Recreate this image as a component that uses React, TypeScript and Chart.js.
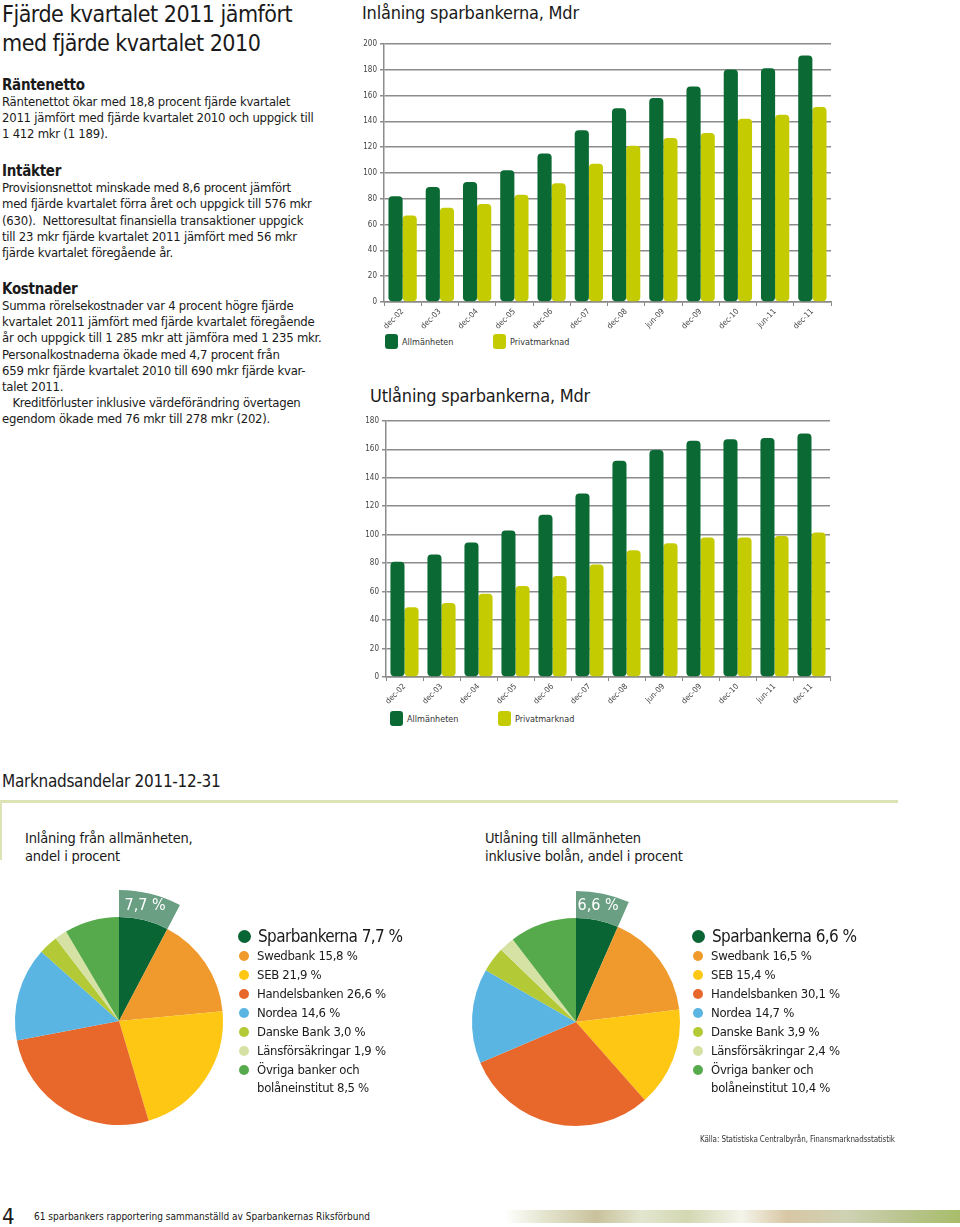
import React, { useEffect, useRef } from "react";
import { Chart, registerables } from "chart.js";

Chart.register(...registerables);

const FONT = '"Liberation Sans Narrow", "DejaVu Sans Condensed", Lato, sans-serif';

// ---- Bar chart data ----
const periods = ["dec-02", "dec-03", "dec-04", "dec-05", "dec-06", "dec-07", "dec-08", "jun-09", "dec-09", "dec-10", "jun-11", "dec-11"];
const seriesNames = ["Allmänheten", "Privatmarknad"];
const inlaningAllmanheten = [82, 89, 93, 102, 115, 133, 150, 158, 167, 180, 181, 191];
const inlaningPrivat = [67, 73, 76, 83, 92, 107, 121, 127, 131, 142, 145, 151];
const utlaningAllmanheten = [81, 86, 94.5, 103, 114, 129, 152, 159.5, 166, 167, 168, 171];
const utlaningPrivat = [49, 52, 58.5, 64, 71, 79, 89, 94, 98, 98, 99, 101.5];
const inlaningMax = 200;
const utlaningMax = 180;
const yStep = 20;

// ---- Pie data ----
const bankNames = ["Sparbankerna", "Swedbank", "SEB", "Handelsbanken", "Nordea", "Danske Bank", "Länsförsäkringar", "Övriga banker och\nbolåneinstitut"];
const inlaningShares = [7.7, 15.8, 21.9, 26.6, 14.6, 3.0, 1.9, 8.5];
const utlaningShares = [6.6, 16.5, 15.4, 30.1, 14.7, 3.9, 2.4, 10.4];

// ---- Styles ----
const DARK_GREEN = "#0b6a34";
const LIME = "#c4cb00";
const bankColors = ["#0a6534", "#f0992c", "#fdc713", "#e8672a", "#5ab5e2", "#b3c935", "#d5e2a4", "#57aa4b"];
const BAND = "#6a9f84";

const fmt = (v: number) => v.toFixed(1).replace(".", ",") + " %";

function BarChart({ a, b, max, left, top, width, height }: any) {
  const ref = useRef<HTMLCanvasElement>(null);
  useEffect(() => {
    const tickFont = { family: FONT, size: 8 };
    const chart = new Chart(ref.current!, {
      type: "bar",
      data: {
        labels: periods,
        datasets: [
          { label: seriesNames[0], data: a, backgroundColor: DARK_GREEN, borderRadius: 4, borderSkipped: false, categoryPercentage: 0.76, barPercentage: 1 },
          { label: seriesNames[1], data: b, backgroundColor: LIME, borderRadius: 4, borderSkipped: false, categoryPercentage: 0.76, barPercentage: 1 },
        ],
      },
      options: {
        responsive: false,
        animation: false,
        events: [],
        layout: { padding: { top: 6, right: 5, left: 0, bottom: 0 } },
        plugins: { legend: { display: false }, tooltip: { enabled: false } },
        scales: {
          x: {
            grid: { display: true, drawOnChartArea: false, tickLength: 4, color: "#888", lineWidth: 1 },
            border: { color: "#888", width: 1.5 },
            ticks: { minRotation: 45, maxRotation: 45, font: tickFont, color: "#444", padding: 1, autoSkip: false },
            afterFit: (s: any) => { s.height = 28; },
          },
          y: {
            min: 0,
            max,
            ticks: { stepSize: yStep, font: tickFont, color: "#444", padding: 3 },
            grid: { color: "#8c8c8c", lineWidth: 1.5, tickLength: 4 },
            border: { color: "#8c8c8c", width: 1.5 },
            afterFit: (s: any) => { s.width = 28; },
          },
        },
      },
    } as any);
    return () => chart.destroy();
  }, []);
  return (
    <canvas ref={ref} width={width} height={height}
      style={{ position: "absolute", left, top, width, height }} />
  );
}

const bandLabelPlugin = {
  id: "bandLabel",
  afterDatasetsDraw(chart: any, _args: any, opts: any) {
    const arc = chart.getDatasetMeta(0).data[0];
    if (!arc) return;
    const p = arc.tooltipPosition(false);
    const ctx = chart.ctx;
    ctx.save();
    ctx.fillStyle = "#ffffff";
    ctx.font = `16px ${FONT}`;
    ctx.textAlign = "center";
    ctx.textBaseline = "middle";
    ctx.fillText(opts.text, p.x - 2, p.y - 1);
    ctx.restore();
  },
};

function PieChart({ values, left, top, size }: any) {
  const ref = useRef<HTMLCanvasElement>(null);
  useEffect(() => {
    const chart = new Chart(ref.current!, {
      type: "doughnut",
      data: {
        labels: bankNames,
        datasets: [
          { data: values, backgroundColor: values.map((_: number, i: number) => (i === 0 ? BAND : "rgba(0,0,0,0)")), borderWidth: 0, weight: 27 },
          { data: values, backgroundColor: bankColors, borderWidth: 0, weight: 104 },
        ],
      },
      options: {
        responsive: false,
        animation: false,
        events: [],
        cutout: 0,
        layout: { padding: 4 },
        plugins: { legend: { display: false }, tooltip: { enabled: false }, bandLabel: { text: fmt(values[0]) } },
      },
      plugins: [bandLabelPlugin],
    } as any);
    return () => chart.destroy();
  }, []);
  return (
    <canvas ref={ref} width={size} height={size}
      style={{ position: "absolute", left, top, width: size, height: size }} />
  );
}

function PieLegend({ values, left, top }: any) {
  return (
    <div style={{ position: "absolute", left, top }}>
      {bankNames.map((name, i) => {
        const big = i === 0;
        const y = big ? 0 : 23 + (i - 1) * 19;
        return (
          <div key={name} style={{ position: "absolute", left: 0, top: y, whiteSpace: "pre", display: "flex", alignItems: "flex-start" }}>
            <div style={{
              width: big ? 13 : 10, height: big ? 13 : 10, borderRadius: "50%", background: bankColors[i],
              marginTop: big ? 6 : 4, marginLeft: big ? 0 : 1, marginRight: big ? 7 : 8,
            }} />
            <div style={{ fontSize: big ? 17 : 13, letterSpacing: big ? "-0.6px" : "-0.3px", lineHeight: big ? "24px" : "18px", color: "#1a1a1a" }}>
              {name + " " + fmt(values[i])}
            </div>
          </div>
        );
      })}
    </div>
  );
}

function BarLegend({ left, top, gap }: any) {
  const item = (color: string, label: string, x: number) => (
    <div style={{ position: "absolute", left: x, top: 0, display: "flex", alignItems: "center" }}>
      <div style={{ width: 13, height: 15, borderRadius: 3, background: color, marginRight: 4 }} />
      <div style={{ fontSize: 9, color: "#333" }}>{label}</div>
    </div>
  );
  return (
    <div style={{ position: "absolute", left, top }}>
      {item(DARK_GREEN, seriesNames[0], 0)}
      {item(LIME, seriesNames[1], gap)}
    </div>
  );
}

const abs = (left: number, top: number, extra: any = {}) => ({ position: "absolute" as const, left, top, ...extra });

export default function App() {
  const body = { fontSize: 13, letterSpacing: "-0.25px", whiteSpace: "pre" };
  const head = { fontWeight: "bold", fontSize: 15, letterSpacing: "-0.3px" };
  return (
    <div style={{ position: "absolute", left: 0, top: 0, width: 960, height: 1227, background: "#fff", overflow: "hidden", fontFamily: FONT, color: "#1a1a1a" }}>
      {/* Left text column */}
      <div style={abs(2, 0, { fontSize: 23, letterSpacing: "-0.5px", lineHeight: "29px", whiteSpace: "pre" })}>
        {"Fjärde kvartalet 2011 jämfört\nmed fjärde kvartalet 2010"}
      </div>
      <div style={abs(2, 77, { ...body, lineHeight: "16px" })}>
        <div style={{ ...head, lineHeight: "17px" }}>Räntenetto</div>
        {"Räntenettot ökar med 18,8 procent fjärde kvartalet\n2011 jämfört med fjärde kvartalet 2010 och uppgick till\n1 412 mkr (1 189)."}
      </div>
      <div style={abs(2, 162, { ...body, lineHeight: "16.3px" })}>
        <div style={{ ...head, lineHeight: "18px" }}>Intäkter</div>
        {"Provisionsnettot minskade med 8,6 procent jämfört\nmed fjärde kvartalet förra året och uppgick till 576 mkr\n(630).  Nettoresultat finansiella transaktioner uppgick\ntill 23 mkr fjärde kvartalet 2011 jämfört med 56 mkr\nfjärde kvartalet föregående år."}
      </div>
      <div style={abs(2, 280, { ...body, lineHeight: "16.2px" })}>
        <div style={{ ...head, lineHeight: "18px" }}>Kostnader</div>
        {"Summa rörelsekostnader var 4 procent högre fjärde\nkvartalet 2011 jämfört med fjärde kvartalet föregående\når och uppgick till 1 285 mkr att jämföra med 1 235 mkr.\nPersonalkostnaderna ökade med 4,7 procent från\n659 mkr fjärde kvartalet 2010 till 690 mkr fjärde kvar-\ntalet 2011.\n   Kreditförluster inklusive värdeförändring övertagen\negendom ökade med 76 mkr till 278 mkr (202)."}
      </div>

      {/* Bar charts */}
      <div style={abs(362, 1, { fontSize: 18, letterSpacing: "-0.2px", lineHeight: "24px", whiteSpace: "pre" })}>Inlåning sparbankerna, Mdr</div>
      <BarChart a={inlaningAllmanheten} b={inlaningPrivat} max={inlaningMax} left={356} top={36} width={480} height={294} />
      <BarLegend left={385} top={334} gap={108} />

      <div style={abs(370, 384, { fontSize: 18, letterSpacing: "-0.2px", lineHeight: "24px", whiteSpace: "pre" })}>Utlåning sparbankerna, Mdr</div>
      <BarChart a={utlaningAllmanheten} b={utlaningPrivat} max={utlaningMax} left={358} top={413} width={477} height={292} />
      <BarLegend left={390} top={711} gap={108} />

      {/* Market share section */}
      <div style={abs(2, 769, { fontSize: 17, letterSpacing: "-0.3px", lineHeight: "24px", whiteSpace: "pre" })}>Marknadsandelar 2011-12-31</div>
      <div style={abs(0, 800, { width: 898, height: 3, background: "#dde3b5" })} />
      <div style={abs(0, 800, { width: 2, height: 60, background: "#dde3b5" })} />
      <div style={abs(25, 829, { fontSize: 14.5, letterSpacing: "-0.2px", lineHeight: "18px", whiteSpace: "pre" })}>{"Inlåning från allmänheten,\nandel i procent"}</div>
      <div style={abs(485, 829, { fontSize: 14.5, letterSpacing: "-0.2px", lineHeight: "18px", whiteSpace: "pre" })}>{"Utlåning till allmänheten\ninklusive bolån, andel i procent"}</div>

      <PieChart values={inlaningShares} left={-16} top={886} size={270} />
      <PieLegend values={inlaningShares} left={238} top={924} />
      <PieChart values={utlaningShares} left={441} top={887} size={270} />
      <PieLegend values={utlaningShares} left={692} top={924} />

      <div style={abs(700, 1134, { fontSize: 8, letterSpacing: "-0.1px", lineHeight: "12px", whiteSpace: "pre", color: "#333" })}>Källa: Statistiska Centralbyrån, Finansmarknadsstatistik</div>

      {/* Footer */}
      <div style={abs(2, 1204, { fontSize: 22, lineHeight: "26px" })}>4</div>
      <div style={abs(34, 1210, { fontSize: 10, lineHeight: "14px", whiteSpace: "pre" })}>61 sparbankers rapportering sammanställd av Sparbankernas Riksförbund</div>
      <div style={abs(505, 1210, {
        width: 455, height: 13,
        background: "linear-gradient(90deg, rgba(255,255,255,0) 0%, #e6e7d2 8%, #c9c29c 20%, #e3e6cf 30%, #d3d8b2 40%, #f4f4ea 52%, #d8c7a4 62%, #cfd2b4 75%, #b9c48e 88%, #a8bd6a 100%)",
      })} />
    </div>
  );
}
